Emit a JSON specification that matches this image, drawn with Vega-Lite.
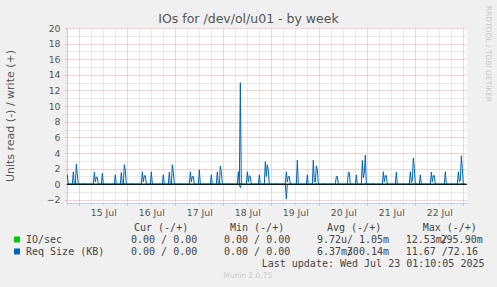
{
"$schema": "https://vega.github.io/schema/vega-lite/v6.json",
"width": 400,
"height": 175,
"autosize": {"type": "none"},
"padding": {"left": 67, "top": 28, "right": 30, "bottom": 84},
"background": "#F0F0F0",
"config": {"view": {"fill": "#FFFFFF", "stroke": null}, "font": "DejaVu Sans"},
"title": {"text": "IOs for /dev/ol/u01 - by week", "font": "DejaVu Sans", "fontSize": 12.5, "fontWeight": "normal", "color": "#555555", "anchor": "middle", "frame": "group", "dx": -18.5, "dy": 30, "offset": 0, "baseline": "alphabetic"},
"datasets": {
"write": [
{"t":"2025-07-14T17:30:00Z","v":0},{"t":"2025-07-14T18:00:00Z","v":1.2},{"t":"2025-07-14T18:30:00Z","v":0},
{"t":"2025-07-14T20:30:00Z","v":0},{"t":"2025-07-14T21:00:00Z","v":1.6},{"t":"2025-07-14T21:30:00Z","v":0},
{"t":"2025-07-14T22:00:00Z","v":0},{"t":"2025-07-14T22:30:00Z","v":2.6},{"t":"2025-07-14T23:00:00Z","v":1.2},{"t":"2025-07-14T23:30:00Z","v":0},
{"t":"2025-07-15T02:00:00Z","v":0},{"t":"2025-07-15T02:30:00Z","v":0.1},{"t":"2025-07-15T03:00:00Z","v":0},
{"t":"2025-07-15T07:00:00Z","v":0},{"t":"2025-07-15T07:30:00Z","v":1.55},{"t":"2025-07-15T08:00:00Z","v":0.3},{"t":"2025-07-15T08:30:00Z","v":0.9},{"t":"2025-07-15T09:00:00Z","v":0.9},{"t":"2025-07-15T09:30:00Z","v":0},
{"t":"2025-07-15T11:00:00Z","v":0},{"t":"2025-07-15T11:30:00Z","v":1.4},{"t":"2025-07-15T12:00:00Z","v":0},
{"t":"2025-07-15T17:30:00Z","v":0},{"t":"2025-07-15T18:00:00Z","v":1.2},{"t":"2025-07-15T18:30:00Z","v":0},
{"t":"2025-07-15T20:30:00Z","v":0},{"t":"2025-07-15T21:00:00Z","v":1.5},{"t":"2025-07-15T21:30:00Z","v":0},{"t":"2025-07-15T22:00:00Z","v":0},{"t":"2025-07-15T22:30:00Z","v":2.5},{"t":"2025-07-15T23:00:00Z","v":1.8},{"t":"2025-07-15T23:30:00Z","v":0},
{"t":"2025-07-16T02:00:00Z","v":0},{"t":"2025-07-16T02:30:00Z","v":0.1},{"t":"2025-07-16T03:00:00Z","v":0},
{"t":"2025-07-16T07:00:00Z","v":0},{"t":"2025-07-16T07:30:00Z","v":1.6},{"t":"2025-07-16T08:00:00Z","v":0.3},{"t":"2025-07-16T08:30:00Z","v":1.1},{"t":"2025-07-16T09:00:00Z","v":1.1},{"t":"2025-07-16T09:30:00Z","v":0},
{"t":"2025-07-16T11:30:00Z","v":0},{"t":"2025-07-16T12:00:00Z","v":1.6},{"t":"2025-07-16T12:30:00Z","v":0},
{"t":"2025-07-16T17:30:00Z","v":0},{"t":"2025-07-16T18:00:00Z","v":1.2},{"t":"2025-07-16T18:30:00Z","v":0},
{"t":"2025-07-16T20:30:00Z","v":0},{"t":"2025-07-16T21:00:00Z","v":1.55},{"t":"2025-07-16T21:30:00Z","v":0},{"t":"2025-07-16T22:00:00Z","v":0},{"t":"2025-07-16T22:30:00Z","v":2.5},{"t":"2025-07-16T23:00:00Z","v":1.6},{"t":"2025-07-16T23:30:00Z","v":0},
{"t":"2025-07-17T02:00:00Z","v":0},{"t":"2025-07-17T02:30:00Z","v":0.1},{"t":"2025-07-17T03:00:00Z","v":0},
{"t":"2025-07-17T07:00:00Z","v":0},{"t":"2025-07-17T07:30:00Z","v":1.6},{"t":"2025-07-17T08:00:00Z","v":0.3},{"t":"2025-07-17T08:30:00Z","v":1.0},{"t":"2025-07-17T09:00:00Z","v":1.0},{"t":"2025-07-17T09:30:00Z","v":0},
{"t":"2025-07-17T11:30:00Z","v":0},{"t":"2025-07-17T12:00:00Z","v":1.85},{"t":"2025-07-17T12:30:00Z","v":0},
{"t":"2025-07-17T17:30:00Z","v":0},{"t":"2025-07-17T18:00:00Z","v":1.2},{"t":"2025-07-17T18:30:00Z","v":0},
{"t":"2025-07-17T20:30:00Z","v":0},{"t":"2025-07-17T21:00:00Z","v":1.6},{"t":"2025-07-17T21:30:00Z","v":0},{"t":"2025-07-17T22:00:00Z","v":0},{"t":"2025-07-17T22:30:00Z","v":2.35},{"t":"2025-07-17T23:00:00Z","v":1.6},{"t":"2025-07-17T23:30:00Z","v":0},
{"t":"2025-07-18T02:00:00Z","v":0},{"t":"2025-07-18T02:30:00Z","v":0.1},{"t":"2025-07-18T03:00:00Z","v":0},
{"t":"2025-07-18T07:00:00Z","v":0},{"t":"2025-07-18T07:30:00Z","v":1.6},{"t":"2025-07-18T08:00:00Z","v":0},{"t":"2025-07-18T08:30:00Z","v":13.0},{"t":"2025-07-18T09:00:00Z","v":0},
{"t":"2025-07-18T11:30:00Z","v":0},{"t":"2025-07-18T12:00:00Z","v":1.6},{"t":"2025-07-18T12:30:00Z","v":0.3},{"t":"2025-07-18T13:00:00Z","v":1.1},{"t":"2025-07-18T13:30:00Z","v":1.0},{"t":"2025-07-18T14:00:00Z","v":0},
{"t":"2025-07-18T17:30:00Z","v":0},{"t":"2025-07-18T18:00:00Z","v":1.2},{"t":"2025-07-18T18:30:00Z","v":0},
{"t":"2025-07-18T20:30:00Z","v":0},{"t":"2025-07-18T21:00:00Z","v":2.9},{"t":"2025-07-18T21:30:00Z","v":1.0},{"t":"2025-07-18T22:00:00Z","v":2.5},{"t":"2025-07-18T22:30:00Z","v":1.8},{"t":"2025-07-18T23:00:00Z","v":0},
{"t":"2025-07-19T02:00:00Z","v":0},{"t":"2025-07-19T02:30:00Z","v":0.1},{"t":"2025-07-19T03:00:00Z","v":0},
{"t":"2025-07-19T07:00:00Z","v":0},{"t":"2025-07-19T07:30:00Z","v":1.6},{"t":"2025-07-19T08:00:00Z","v":0.3},{"t":"2025-07-19T08:30:00Z","v":1.0},{"t":"2025-07-19T09:00:00Z","v":1.0},{"t":"2025-07-19T09:30:00Z","v":0},
{"t":"2025-07-19T12:30:00Z","v":0},{"t":"2025-07-19T13:00:00Z","v":3.1},{"t":"2025-07-19T13:30:00Z","v":0},
{"t":"2025-07-19T17:30:00Z","v":0},{"t":"2025-07-19T18:00:00Z","v":1.2},{"t":"2025-07-19T18:30:00Z","v":0},
{"t":"2025-07-19T20:30:00Z","v":0},{"t":"2025-07-19T21:00:00Z","v":3.1},{"t":"2025-07-19T21:30:00Z","v":0.3},{"t":"2025-07-19T22:00:00Z","v":0.3},{"t":"2025-07-19T22:30:00Z","v":2.35},{"t":"2025-07-19T23:00:00Z","v":1.9},{"t":"2025-07-19T23:30:00Z","v":0},
{"t":"2025-07-20T02:00:00Z","v":0},{"t":"2025-07-20T02:30:00Z","v":0.1},{"t":"2025-07-20T03:00:00Z","v":0},
{"t":"2025-07-20T08:00:00Z","v":0},{"t":"2025-07-20T08:30:00Z","v":1.0},{"t":"2025-07-20T09:00:00Z","v":1.0},{"t":"2025-07-20T09:30:00Z","v":0},
{"t":"2025-07-20T14:00:00Z","v":0},{"t":"2025-07-20T14:30:00Z","v":1.5},{"t":"2025-07-20T15:00:00Z","v":1.5},{"t":"2025-07-20T15:30:00Z","v":0},
{"t":"2025-07-20T18:00:00Z","v":0},{"t":"2025-07-20T18:30:00Z","v":1.2},{"t":"2025-07-20T19:00:00Z","v":0},
{"t":"2025-07-20T21:00:00Z","v":0},{"t":"2025-07-20T21:30:00Z","v":3.05},{"t":"2025-07-20T22:00:00Z","v":0.8},{"t":"2025-07-20T22:30:00Z","v":1.5},{"t":"2025-07-20T23:00:00Z","v":3.75},{"t":"2025-07-20T23:30:00Z","v":0},
{"t":"2025-07-21T02:30:00Z","v":0},{"t":"2025-07-21T03:00:00Z","v":0.1},{"t":"2025-07-21T03:30:00Z","v":0},
{"t":"2025-07-21T07:30:00Z","v":0},{"t":"2025-07-21T08:00:00Z","v":1.6},{"t":"2025-07-21T08:30:00Z","v":0.3},{"t":"2025-07-21T09:00:00Z","v":1.1},{"t":"2025-07-21T09:30:00Z","v":1.1},{"t":"2025-07-21T10:00:00Z","v":0},
{"t":"2025-07-21T14:00:00Z","v":0},{"t":"2025-07-21T14:30:00Z","v":1.55},{"t":"2025-07-21T15:00:00Z","v":0},
{"t":"2025-07-21T21:00:00Z","v":0},{"t":"2025-07-21T21:30:00Z","v":1.6},{"t":"2025-07-21T22:00:00Z","v":0.2},{"t":"2025-07-21T22:30:00Z","v":0.5},{"t":"2025-07-21T23:00:00Z","v":3.35},{"t":"2025-07-21T23:30:00Z","v":2.0},
{"t":"2025-07-22T00:00:00Z","v":0},
{"t":"2025-07-22T02:00:00Z","v":0},{"t":"2025-07-22T02:30:00Z","v":1.2},{"t":"2025-07-22T03:00:00Z","v":0},
{"t":"2025-07-22T07:30:00Z","v":0},{"t":"2025-07-22T08:00:00Z","v":1.55},{"t":"2025-07-22T08:30:00Z","v":0.3},{"t":"2025-07-22T09:00:00Z","v":1.1},{"t":"2025-07-22T09:30:00Z","v":1.1},{"t":"2025-07-22T10:00:00Z","v":0},
{"t":"2025-07-22T14:30:00Z","v":0},{"t":"2025-07-22T15:00:00Z","v":1.6},{"t":"2025-07-22T15:30:00Z","v":0},
{"t":"2025-07-22T21:00:00Z","v":0},{"t":"2025-07-22T21:30:00Z","v":1.6},{"t":"2025-07-22T22:00:00Z","v":0.3},{"t":"2025-07-22T22:30:00Z","v":0.5},{"t":"2025-07-22T23:00:00Z","v":3.65},{"t":"2025-07-22T23:30:00Z","v":2.0},
{"t":"2025-07-23T00:00:00Z","v":0},{"t":"2025-07-23T01:00:00Z","v":0}
],
"read": [
{"t":"2025-07-14T17:30:00Z","v":0},
{"t":"2025-07-18T08:00:00Z","v":0},{"t":"2025-07-18T08:30:00Z","v":-0.45},{"t":"2025-07-18T09:00:00Z","v":0},
{"t":"2025-07-19T07:00:00Z","v":0},{"t":"2025-07-19T07:30:00Z","v":-1.9},{"t":"2025-07-19T08:00:00Z","v":0},
{"t":"2025-07-23T01:00:00Z","v":0}
],
"io": [
{"t":"2025-07-14T17:30:00Z","v":0},
{"t":"2025-07-14T22:00:00Z","v":0},{"t":"2025-07-14T22:30:00Z","v":0.15},{"t":"2025-07-14T23:00:00Z","v":0},
{"t":"2025-07-15T22:00:00Z","v":0},{"t":"2025-07-15T22:30:00Z","v":0.15},{"t":"2025-07-15T23:00:00Z","v":0},
{"t":"2025-07-16T22:00:00Z","v":0},{"t":"2025-07-16T22:30:00Z","v":0.15},{"t":"2025-07-16T23:00:00Z","v":0},
{"t":"2025-07-17T22:00:00Z","v":0},{"t":"2025-07-17T22:30:00Z","v":0.15},{"t":"2025-07-17T23:00:00Z","v":0},
{"t":"2025-07-18T08:00:00Z","v":0},{"t":"2025-07-18T08:30:00Z","v":0.15},{"t":"2025-07-18T09:00:00Z","v":0},
{"t":"2025-07-18T21:30:00Z","v":0},{"t":"2025-07-18T22:00:00Z","v":0.15},{"t":"2025-07-18T22:30:00Z","v":0},
{"t":"2025-07-19T22:00:00Z","v":0},{"t":"2025-07-19T22:30:00Z","v":0.15},{"t":"2025-07-19T23:00:00Z","v":0},
{"t":"2025-07-20T22:30:00Z","v":0},{"t":"2025-07-20T23:00:00Z","v":0.15},{"t":"2025-07-20T23:30:00Z","v":0},
{"t":"2025-07-21T22:30:00Z","v":0},{"t":"2025-07-21T23:00:00Z","v":0.15},{"t":"2025-07-21T23:30:00Z","v":0},
{"t":"2025-07-22T22:30:00Z","v":0},{"t":"2025-07-22T23:00:00Z","v":0.15},{"t":"2025-07-22T23:30:00Z","v":0},
{"t":"2025-07-23T01:00:00Z","v":0}
],
"legend": [
{"row":0,"col":3,"part":"text","text":"Cur (-/+)"},
{"row":0,"col":5,"part":"text","text":"Min (-/+)"},
{"row":0,"col":9,"part":"text","text":"Avg (-/+)"},
{"row":0,"col":12,"part":"text","text":"Max (-/+)"},
{"row":1,"col":0,"part":"swatch","series":"IO/sec"},
{"row":1,"col":1,"part":"text","text":"IO/sec"},
{"row":1,"col":2,"part":"text","text":"0.00 / 0.00"},
{"row":1,"col":4,"part":"text","text":"0.00 / 0.00"},
{"row":1,"col":8,"part":"text","text":"9.72u/"},
{"row":1,"col":10,"part":"write","text":"1.05m"},
{"row":1,"col":11,"part":"text","text":"12.53m/"},
{"row":1,"col":13,"part":"write","text":"295.90m"},
{"row":2,"col":0,"part":"swatch","series":"Req Size (KB)"},
{"row":2,"col":1,"part":"text","text":"Req Size (KB)"},
{"row":2,"col":2,"part":"text","text":"0.00 / 0.00"},
{"row":2,"col":4,"part":"text","text":"0.00 / 0.00"},
{"row":2,"col":8,"part":"text","text":"6.37m/"},
{"row":2,"col":10,"part":"write","text":"300.14m"},
{"row":2,"col":11,"part":"text","text":"11.67 /72.16"},
{"row":3,"col":7,"part":"text","text":"Last update: Wed Jul 23 01:10:05 2025"},
{"row":4,"col":6,"part":"credit","text":"Munin 2.0.75"}
]
},
"layer": [
{
"data": {"name": "io"},
"mark": {"type": "line", "color": "#00CC00", "strokeWidth": 1, "clip": true},
"encoding": {
"x": {"field": "t", "type": "temporal",
"scale": {"type": "utc", "nice": false, "domain": [1752515400000, 1753235400000]},
"axis": {"orient": "bottom", "title": null, "values": [1752516000000,1752559200000,1752580800000,1752602400000,1752645600000,1752667200000,1752688800000,1752732000000,1752753600000,1752775200000,1752818400000,1752840000000,1752861600000,1752904800000,1752926400000,1752948000000,1752991200000,1753012800000,1753034400000,1753077600000,1753099200000,1753120800000,1753164000000,1753185600000,1753207200000],
"grid": true, "gridColor": "#D4D4D4", "gridDash": [1, 1], "labels": false, "ticks": true, "tickColor": "#D4D4D4", "tickSize": 2, "domain": false}},
"y": {"field": "v", "type": "quantitative",
"scale": {"domain": [-2.4, 20], "nice": false, "zero": false},
"axis": {"orient": "left", "title": null, "values": [-1,1,3,5,7,9,11,13,15,17,19],
"grid": true, "gridColor": "#D4D4D4", "gridDash": [1, 1], "labels": false, "ticks": true, "tickColor": "#D4D4D4", "tickSize": 2, "domain": false}}
}
},
{
"data": {"name": "write"},
"mark": {"type": "line", "color": "#0066B3", "strokeWidth": 1, "clip": true},
"encoding": {
"x": {"field": "t", "type": "temporal",
"scale": {"type": "utc", "nice": false, "domain": [1752515400000, 1753235400000]},
"axis": {"orient": "bottom", "title": null, "values": [1752537600000,1752624000000,1752710400000,1752796800000,1752883200000,1752969600000,1753056000000,1753142400000,1753228800000],
"grid": true, "gridColor": "#E8A6A6", "gridDash": [1, 1], "labels": false, "ticks": true, "tickColor": "#E8A6A6", "tickSize": 2, "domain": false}},
"y": {"field": "v", "type": "quantitative",
"scale": {"domain": [-2.4, 20], "nice": false, "zero": false},
"axis": {"orient": "left", "title": "Units read (-) / write (+)", "values": [-2,0,2,4,6,8,10,12,14,16,18,20],
"grid": true, "gridColor": "#E8A6A6", "gridDash": [1, 1], "ticks": true, "tickColor": "#E8A6A6", "tickSize": 2,
"labelPadding": 5, "labelFont": "DejaVu Sans", "labelFontSize": 9.3, "labelColor": "#555555",
"titleFont": "DejaVu Sans", "titleFontSize": 11, "titleFontWeight": "normal", "titleColor": "#555555", "titlePadding": 31,
"domain": true, "domainColor": "#C8C8F0"}}
}
},
{
"data": {"name": "read"},
"mark": {"type": "line", "color": "#0066B3", "strokeWidth": 1, "clip": true},
"encoding": {
"x": {"field": "t", "type": "temporal",
"scale": {"type": "utc", "nice": false, "domain": [1752515400000, 1753235400000]},
"axis": {"orient": "bottom", "title": null, "values": [1752580800000,1752667200000,1752753600000,1752840000000,1752926400000,1753012800000,1753099200000,1753185600000],
"format": "%d %b", "grid": false, "ticks": false, "labelPadding": 5, "labelFont": "DejaVu Sans", "labelFontSize": 9.3, "labelColor": "#555555",
"domain": true, "domainColor": "#C8C8F0"}},
"y": {"field": "v", "type": "quantitative",
"scale": {"domain": [-2.4, 20], "nice": false, "zero": false},
"axis": {"orient": "right", "title": "RRDTOOL / TOBI OETIKER", "labels": false, "ticks": false, "domain": false, "grid": false,
"titleAngle": 90, "titleX": 20.5, "titleY": 25.5, "titleAlign": "center", "titleBaseline": "middle",
"titleFont": "DejaVu Sans", "titleFontSize": 7.5, "titleFontWeight": "normal", "titleColor": "#C8C8C8"}}
}
},
{
"data": {"values": [{}]},
"mark": {"type": "rule", "color": "#000000", "strokeWidth": 1},
"encoding": {"y": {"datum": 0, "type": "quantitative", "axis": null, "scale": {"domain": [-2.4, 20], "nice": false, "zero": false}}}
},
{
"data": {"name": "legend"},
"transform": [{"filter": "datum.part === 'swatch'"}],
"mark": {"type": "point", "shape": "square", "filled": true, "size": 36, "opacity": 1, "strokeWidth": 0},
"encoding": {
"x": {"field": "col", "type": "quantitative", "axis": null,
"scale": {"domain": [0,1,2,3,4,5,6,7,8,9,10,11,12,13], "range": [-50,-41,64,67,157,163,180.7,194.7,250,260,322,338.7,355.7,415.7], "nice": false, "zero": false}},
"y": {"field": "row", "type": "quantitative", "axis": null,
"scale": {"domain": [0, 4], "range": [199.5, 247.5], "nice": false, "zero": false}},
"color": {"field": "series", "type": "nominal", "legend": null,
"scale": {"domain": ["IO/sec", "Req Size (KB)"], "range": ["#00CC00", "#0066B3"]}}
}
},
{
"data": {"name": "legend"},
"transform": [{"filter": "datum.part === 'text'"}],
"mark": {"type": "text", "font": "DejaVu Sans Mono", "fontSize": 10, "color": "#444444", "align": "left", "baseline": "middle"},
"encoding": {
"x": {"field": "col", "type": "quantitative", "axis": null,
"scale": {"domain": [0,1,2,3,4,5,6,7,8,9,10,11,12,13], "range": [-50,-41,64,67,157,163,180.7,194.7,250,260,322,338.7,355.7,415.7], "nice": false, "zero": false}},
"y": {"field": "row", "type": "quantitative", "axis": null,
"scale": {"domain": [0, 4], "range": [199.5, 247.5], "nice": false, "zero": false}},
"text": {"field": "text"}
}
},
{
"data": {"name": "legend"},
"transform": [{"filter": "datum.part === 'write'"}],
"mark": {"type": "text", "font": "DejaVu Sans Mono", "fontSize": 10, "color": "#444444", "align": "right", "baseline": "middle"},
"encoding": {
"x": {"field": "col", "type": "quantitative", "axis": null,
"scale": {"domain": [0,1,2,3,4,5,6,7,8,9,10,11,12,13], "range": [-50,-41,64,67,157,163,180.7,194.7,250,260,322,338.7,355.7,415.7], "nice": false, "zero": false}},
"y": {"field": "row", "type": "quantitative", "axis": null,
"scale": {"domain": [0, 4], "range": [199.5, 247.5], "nice": false, "zero": false}},
"text": {"field": "text"}
}
},
{
"data": {"name": "legend"},
"transform": [{"filter": "datum.part === 'credit'"}],
"mark": {"type": "text", "font": "DejaVu Sans", "fontSize": 7.5, "color": "#C8C8C8", "align": "center", "baseline": "middle"},
"encoding": {
"x": {"field": "col", "type": "quantitative", "axis": null,
"scale": {"domain": [0,1,2,3,4,5,6,7,8,9,10,11,12,13], "range": [-50,-41,64,67,157,163,180.7,194.7,250,260,322,338.7,355.7,415.7], "nice": false, "zero": false}},
"y": {"field": "row", "type": "quantitative", "axis": null,
"scale": {"domain": [0, 4], "range": [199.5, 247.5], "nice": false, "zero": false}},
"text": {"field": "text"}
}
}
],
"resolve": {"scale": {"x": "independent", "y": "independent"}}
}
